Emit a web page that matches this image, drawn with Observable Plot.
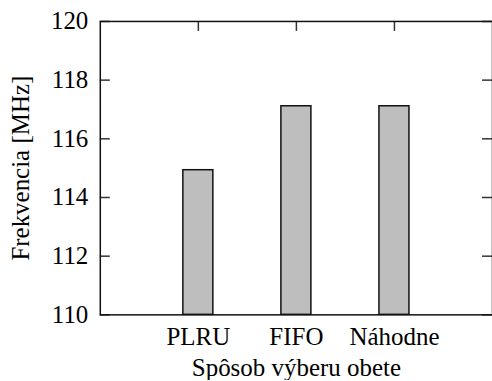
<!DOCTYPE html>
<html>
<head>
<meta charset="utf-8">
<script src="https://cdn.jsdelivr.net/npm/d3@7"></script>
<script src="https://cdn.jsdelivr.net/npm/@observablehq/plot@0.6"></script>
<style>
  html, body { margin: 0; padding: 0; background: #fff; overflow: hidden; }
  svg text { font-family: "Liberation Serif", "Times New Roman", serif !important; }
</style>
</head>
<body>
<div id="chart"></div>
<script>
const categories = ["PLRU", "FIFO", "Náhodne"];
const values = [114.93, 117.11, 117.11];
const yTicks = [110, 112, 114, 116, 118, 120];
const xLabel = "Spôsob výberu obete";
const yLabel = "Frekvencia [MHz]";

const data = categories.map((c, i) => ({cat: c, pos: i + 1, value: values[i]}));
const positions = data.map(d => d.pos);

const W = 493, H = 381;
const mL = 100, mR = 0, mT = 21, mB = 66;
const innerW = W - mL - mR, innerH = H - mT - mB;
const barHalf = 0.153;
const tickLen = 10;
const font = '"Liberation Serif", "Times New Roman", serif';
const fs = 25;
const textOpts = {fontSize: fs, fontFamily: font, fill: "#000"};

const chart = Plot.plot({
  width: W,
  height: H,
  marginLeft: mL,
  marginRight: mR,
  marginTop: mT,
  marginBottom: mB,
  style: {fontFamily: font, fontSize: fs + "px", color: "#000", background: "#fff"},
  x: {type: "linear", domain: [0, 4], axis: null},
  y: {domain: [110, 120], axis: null},
  marks: [
    Plot.tickX(positions, {x: d => d, insetBottom: innerH - tickLen, stroke: "#333", strokeWidth: 1.5}),
    Plot.tickY(yTicks, {y: d => d, insetRight: innerW - tickLen, stroke: "#333", strokeWidth: 1.5}),
    Plot.tickY(yTicks, {y: d => d, insetLeft: innerW - tickLen, stroke: "#333", strokeWidth: 1.5}),
    Plot.rectY(data, {x1: d => d.pos - barHalf, x2: d => d.pos + barHalf, y1: 110, y2: "value",
      fill: "#bebebe", stroke: "#111", strokeWidth: 1.5}),
    Plot.frame({stroke: "#111", strokeWidth: 1.5}),
    // y tick labels
    Plot.text(yTicks, {y: d => d, text: d => String(d), frameAnchor: "left", dx: -12,
      textAnchor: "end", lineAnchor: "middle", ...textOpts}),
    // x category labels
    Plot.text(data, {x: "pos", text: "cat", frameAnchor: "bottom", dy: 12,
      textAnchor: "middle", lineAnchor: "top", ...textOpts}),
    // axis titles
    Plot.text([xLabel], {frameAnchor: "bottom", text: d => d, dy: 53, lineAnchor: "middle", textAnchor: "middle",
      ...textOpts}),
    Plot.text([yLabel], {frameAnchor: "left", text: d => d, dx: -79, lineAnchor: "middle", textAnchor: "middle",
      ...textOpts, rotate: -90})
  ]
});

document.getElementById("chart").appendChild(chart);
</script>
</body>
</html>
